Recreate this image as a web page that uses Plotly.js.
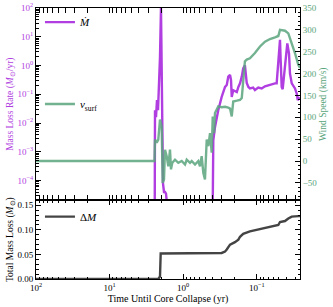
<!DOCTYPE html>
<html>
<head>
<meta charset="utf-8">
<script src="https://cdn.plot.ly/plotly-3.0.1.min.js"></script>
<style>
  html, body { margin: 0; padding: 0; background: #fff; }
  #chart { width: 333px; height: 307px; }
</style>
</head>
<body>
<div id="chart"></div>
<script>
// time until core collapse (yr) and mass loss rate (Msun/yr); 1e-9 = below plot
const tMdot = [2.46, 2.43, 2.416, 2.342, 2.270, 2.200, 2.132, 2.066, 2.003, 1.941, 1.911,
  1.882, 1.824, 1.767, 1.713, 1.676, 1.66, 0.412, 0.410, 0.390, 0.370, 0.334, 0.300, 0.270,
  0.256, 0.244, 0.231, 0.224, 0.219, 0.209, 0.187, 0.178, 0.169, 0.160, 0.153, 0.145, 0.137,
  0.130, 0.124, 0.112, 0.106, 0.0954, 0.0858, 0.0774, 0.0662, 0.0566, 0.0537, 0.0520, 0.0499,
  0.0484, 0.0474, 0.0459, 0.0445, 0.0423, 0.0405, 0.0385, 0.0365, 0.0354, 0.0335, 0.0303,
  0.0287, 0.0278, 0.0263];
const mdot = [1e-9, 1e-9, 0.028, 0.016, 0.063, 0.028, 0.138, 2.0, 100, 0.063, 0.00126,
  7.9e-5, 4e-5, 4e-5, 3.5e-5, 2e-5, 1e-9, 1e-9, 1e-9, 0.0025, 0.0072, 0.028, 0.081, 0.18,
  0.21, 0.41, 0.47, 0.31, 0.081, 0.138, 0.12, 0.18, 0.24, 0.41, 0.79, 1.02, 0.25,
  0.18, 0.16, 0.17, 0.14, 0.17, 0.16, 0.19, 0.22, 0.24, 0.24, 0.89, 3.5,
  7.8, 1.55, 0.18, 0.15, 0.52, 2.6, 5.9, 2.6, 0.52, 0.24, 0.16,
  0.107, 0.063, 0.079];

// surface wind speed (km/s)
const tV = [100, 2.455, 2.416, 2.291, 2.179, 2.066, 1.960, 1.899, 1.824, 1.767, 1.676,
  1.594, 1.511, 1.465, 1.406, 1.292, 1.166, 1.048, 0.945, 0.896, 0.808, 0.766, 0.691, 0.623,
  0.591, 0.561, 0.533, 0.506, 0.479, 0.456, 0.432, 0.410, 0.397, 0.381, 0.370, 0.350, 0.334,
  0.300, 0.270, 0.244, 0.231, 0.219, 0.209, 0.187, 0.169, 0.160, 0.153, 0.145, 0.137, 0.124,
  0.106, 0.0905, 0.0774, 0.0662, 0.0566, 0.0510, 0.0484, 0.0414, 0.0373, 0.0335, 0.0303,
  0.0273, 0.0259];
const vSurf = [0, 0, 49, 42, 49, 95, 79, -50, -42, 26, 11,
  -12, 26, -19, -4, 3, -4, 0, -8, 3, -4, 0, -8, 0,
  -12, 11, -27, -42, 49, 34, 64, 19, 102, 64, 110, 117, 125,
  123, 124, 122, 120, 102, 136, 138, 140, 144, 193, 228, 232, 235,
  247, 262, 273, 279, 283, 286, 300, 298, 292, 270, 247,
  220, 213];

// cumulative mass lost (Msun)
const tDM = [100, 2.179, 2.066, 2.022, 0.300, 0.270, 0.256, 0.231, 0.198, 0.178, 0.169,
  0.153, 0.124, 0.0905, 0.0662, 0.0510, 0.0484, 0.0414, 0.0373, 0.0335, 0.0273, 0.0259];
const dM = [0, 0, 0.005, 0.052, 0.053, 0.056, 0.060, 0.070, 0.075, 0.080, 0.086,
  0.092, 0.097, 0.102, 0.107, 0.110, 0.116, 0.118, 0.123, 0.127, 0.128, 0.128];

const xTicks = [100, 10, 1, 0.1];
const xTickText = ["10<sup>2</sup>", "10<sup>1</sup>", "10<sup>0</sup>", "10<sup>−1</sup>"];
const mdotTicks = [1e-4, 1e-3, 1e-2, 1e-1, 1, 10, 100];
const mdotTickText = ["10<sup>−4</sup>", "10<sup>−3</sup>", "10<sup>−2</sup>", "10<sup>−1</sup>",
  "10<sup>0</sup>", "10<sup>1</sup>", "10<sup>2</sup>"];

const purple = "#b03ee0";
const green = "#5aa57c";
const dark = "#444444";

function logMinor(lo, hi) {
  const out = [];
  for (let e = lo; e < hi; e++) {
    for (let k = 2; k <= 9; k++) out.push(k * Math.pow(10, e));
  }
  return out;
}

const serif = "Liberation Serif, Times New Roman, serif";

const xBase = {
  type: "log",
  range: [2, -1.587],
  autorange: false,
  tickmode: "array",
  tickvals: xTicks,
  ticktext: xTickText,
  ticks: "inside",
  ticklen: 5,
  tickcolor: "#000",
  showline: true,
  linecolor: "#000",
  linewidth: 1,
  mirror: "allticks",
  showgrid: false,
  zeroline: false,
  minor: { tickmode: "array", tickvals: logMinor(-2, 2), ticks: "inside", ticklen: 2.5, tickcolor: "#000", showgrid: false }
};

const traces = [
  {
    x: tMdot, y: mdot, xaxis: "x", yaxis: "y",
    mode: "lines", name: "<i>Ṁ</i>", legend: "legend",
    line: { color: purple, width: 2.4 }
  },
  {
    x: tV, y: vSurf, xaxis: "x", yaxis: "y2",
    mode: "lines", name: "<i>v</i><sub>surf</sub>", legend: "legend2",
    opacity: 0.85,
    line: { color: green, width: 2.4 }
  },
  {
    x: tDM, y: dM, xaxis: "x2", yaxis: "y3",
    mode: "lines", name: "Δ<i>M</i>", legend: "legend3",
    line: { color: dark, width: 2.4 }
  }
];

const legendBase = {
  xanchor: "left", yanchor: "middle",
  bgcolor: "rgba(0,0,0,0)",
  font: { family: serif, size: 11, color: "#000" }
};

const layout = {
  width: 333,
  height: 307,
  margin: { l: 36, r: 33, t: 8, b: 28 },
  paper_bgcolor: "#fff",
  plot_bgcolor: "#fff",
  font: { family: serif, size: 9, color: "#000" },
  xaxis: Object.assign({}, xBase, { anchor: "y", showticklabels: false }),
  xaxis2: Object.assign({}, xBase, {
    anchor: "y3", matches: "x",
    title: { text: "Time Until Core Collapse (yr)", font: { size: 10 }, standoff: 2 }
  }),
  yaxis: {
    type: "log",
    domain: [0.29, 1],
    range: [-4.69, 2],
    autorange: false,
    anchor: "x",
    tickmode: "array",
    tickvals: mdotTicks,
    ticktext: mdotTickText,
    tickfont: { color: purple },
    ticks: "inside", ticklen: 5, tickcolor: "#000",
    showline: true, linecolor: "#000", mirror: false,
    showgrid: false, zeroline: false,
    minor: { tickmode: "array", tickvals: logMinor(-5, 2), ticks: "inside", ticklen: 2.5, tickcolor: "#000", showgrid: false },
    title: { text: "Mass Loss Rate (<i>M</i><sub>⊙</sub>/yr)", font: { size: 9.5, color: purple }, standoff: 2 }
  },
  yaxis2: {
    overlaying: "y",
    side: "right",
    anchor: "x",
    range: [-90, 350],
    autorange: false,
    dtick: 50,
    tickfont: { color: green },
    ticks: "inside", ticklen: 5, tickcolor: "#000",
    showline: true, linecolor: "#000",
    showgrid: false, zeroline: false,
    minor: { dtick: 10, ticks: "inside", ticklen: 2.5, tickcolor: "#000", showgrid: false },
    title: { text: "Wind Speed (km/s)", font: { size: 9.5, color: green }, standoff: 2 }
  },
  yaxis3: {
    domain: [0, 0.29],
    range: [0, 0.16],
    autorange: false,
    anchor: "x2",
    tickvals: [0, 0.05, 0.10, 0.15],
    tickformat: ".2f",
    ticks: "inside", ticklen: 5, tickcolor: "#000",
    showline: true, linecolor: "#000", mirror: "ticks",
    showgrid: false, zeroline: false,
    minor: { dtick: 0.01, ticks: "inside", ticklen: 2.5, tickcolor: "#000", showgrid: false },
    title: { text: "Total Mass Loss (<i>M</i><sub>⊙</sub>)", font: { size: 9.5 }, standoff: 2 }
  },
  legend: Object.assign({}, legendBase, { x: 0.015, y: 0.948 }),
  legend2: Object.assign({}, legendBase, { x: 0.015, y: 0.646 }),
  legend3: Object.assign({}, legendBase, { x: 0.015, y: 0.23 }),
  showlegend: true
};

Plotly.newPlot("chart", traces, layout, { displayModeBar: false, staticPlot: true });
</script>
</body>
</html>
